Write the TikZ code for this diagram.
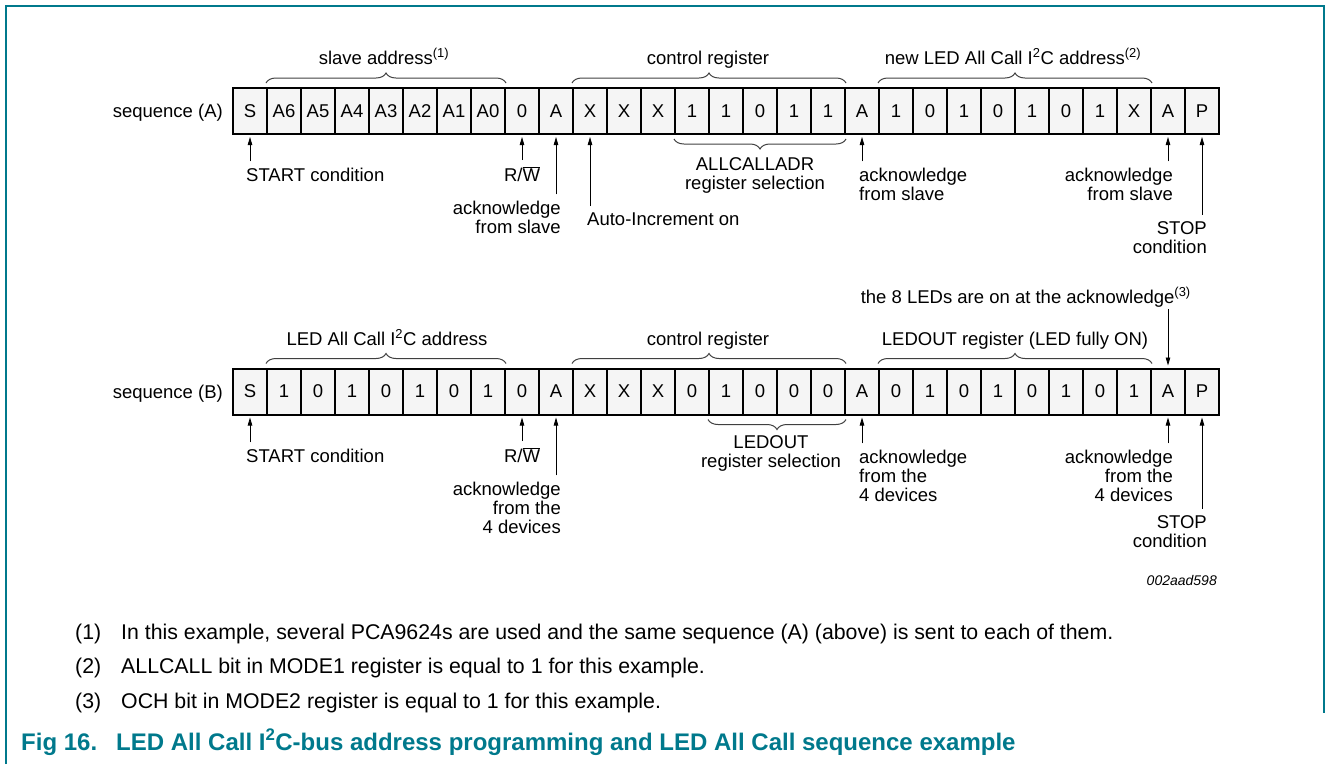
\documentclass[tikz,border=0pt]{standalone}
\usepackage{fontspec}
\setmainfont{Liberation Sans}
\usetikzlibrary{positioning,arrows.meta,decorations.pathreplacing,calc}
\definecolor{nxpteal}{RGB}{0,121,140}
\tikzset{bitcell/.style={draw,line width=2pt,fill=black!4,minimum width=34pt,minimum height=46pt,inner sep=0pt},
  lbl/.style={inner sep=1pt},
  note/.style={lbl,anchor=base west,font=\fontsize{21.3}{24}\selectfont},
  capt/.style={lbl,anchor=base west,font=\bfseries\fontsize{24}{26}\selectfont,text=nxpteal},
  upar/.style={-{Triangle[length=8pt,width=4.5pt]},line width=0.8pt,shorten <=5pt,shorten >=2pt},
  brc/.style={decorate,decoration={brace,amplitude=10pt,raise=4pt},line width=1pt,black!75}}
\newcommand{\bitrow}[3]{% prefix, y, bits
  \foreach \v [count=\i from 0] in {#3} {\node[bitcell] (#1\i) at (250+34*\i,#2) {\v};}}
\newcommand{\rwbar}{R/$\overline{\hbox{W}}$}

\begin{document}
\begin{tikzpicture}[x=1pt,y=-1pt,font=\fontsize{18.5}{19}\selectfont]
    \useasboundingbox (0,0) rectangle (1328,764);
    \draw[nxpteal,line width=1.5pt] (6,764) -- (6,6) -- (1324,6) -- (1324,713);
    % sequence (A)
    \node[lbl,anchor=base east] (seqA) at (224,117) {sequence (A)};
    \bitrow{a}{111}{S,A6,A5,A4,A3,A2,A1,A0,0,A,X,X,X,1,1,0,1,1,A,1,0,1,0,1,0,1,X,A,P}
    \draw[brc] (a1.north west) -- (a7.north east);
    \draw[brc] (a10.north west) -- (a17.north east);
    \draw[brc] (a19.north west) -- (a26.north east);
    \draw[brc] (a17.south east) -- (a13.south west);
    \node[lbl,anchor=base] (slvA) at (384,64) {slave address\textsuperscript{(1)}};
    \node[lbl,anchor=base] (ctlA) at (708,64) {control register};
    \node[lbl,anchor=base] (newA) at (1013,64) {new LED All Call I\textsuperscript{2}C address\textsuperscript{(2)}};
    \node[lbl,anchor=base,align=center] (selA) at (755,189) {ALLCALLADR\\register selection};
    \node[lbl,anchor=base west] (stA) at (245,181) {START condition};
    \node[lbl,anchor=base] (rwA) at (522,181) {\rwbar};
    \node[lbl,anchor=base east,align=right] (ackA1) at (562,233) {acknowledge\\from slave};
    \node[lbl,anchor=base west] (aiA) at (586,225) {Auto-Increment on};
    \node[lbl,anchor=base west,align=left] (ackA2) at (858,200) {acknowledge\\from slave};
    \node[lbl,anchor=base east,align=right] (ackA3) at (1174,200) {acknowledge\\from slave};
    \node[lbl,anchor=base east,align=right] (spA) at (1208,253) {STOP\\condition};
    \draw[upar] (a0 |- stA.north) -- (a0.south);
    \draw[upar] (a8 |- rwA.north) -- (a8.south);
    \draw[upar] (a9 |- ackA1.north) -- (a9.south);
    \draw[upar] (a10 |- aiA.north) -- (a10.south);
    \draw[upar] (a18 |- ackA2.north) -- (a18.south);
    \draw[upar] (a27 |- ackA3.north) -- (a27.south);
    \draw[upar] (a28 |- spA.north) -- (a28.south);
    % sequence (B)
    \node[lbl,anchor=base east] (seqB) at (224,398) {sequence (B)};
    \bitrow{b}{391.5}{S,1,0,1,0,1,0,1,0,A,X,X,X,0,1,0,0,0,A,0,1,0,1,0,1,0,1,A,P}
    \draw[brc] (b1.north west) -- (b7.north east);
    \draw[brc] (b10.north west) -- (b17.north east);
    \draw[brc] (b19.north west) -- (b26.north east);
    \draw[brc] (b17.south east) -- (b14.south west);
    \node[lbl,anchor=base] (llB) at (387,345) {LED All Call I\textsuperscript{2}C address};
    \node[lbl,anchor=base] (ctlB) at (708,345) {control register};
    \node[lbl,anchor=base] (outB) at (1015,345) {LEDOUT register (LED fully ON)};
    \node[lbl,anchor=base east] (ledB) at (1192,303) {the 8 LEDs are on at the acknowledge\textsuperscript{(3)}};
    \node[lbl,anchor=base,align=center] (selB) at (771,467) {LEDOUT\\register selection};
    \node[lbl,anchor=base west] (stB) at (245,462) {START condition};
    \node[lbl,anchor=base] (rwB) at (522,462) {\rwbar};
    \node[lbl,anchor=base east,align=right] (ackB1) at (562,533) {acknowledge\\from the\\4 devices};
    \node[lbl,anchor=base west,align=left] (ackB2) at (858,501) {acknowledge\\from the\\4 devices};
    \node[lbl,anchor=base east,align=right] (ackB3) at (1174,501) {acknowledge\\from the\\4 devices};
    \node[lbl,anchor=base east,align=right] (spB) at (1208,547) {STOP\\condition};
    \draw[upar,shorten <=1pt] (b27 |- ledB.south) -- (b27.north);
    \draw[upar] (b0 |- stB.north) -- (b0.south);
    \draw[upar] (b8 |- rwB.north) -- (b8.south);
    \draw[upar] (b9 |- ackB1.north) -- (b9.south);
    \draw[upar] (b18 |- ackB2.north) -- (b18.south);
    \draw[upar] (b27 |- ackB3.north) -- (b27.south);
    \draw[upar] (b28 |- spB.north) -- (b28.south);
    \node[lbl,anchor=base east,font=\itshape\fontsize{14}{16}\selectfont] (docid) at (1218,585) {002aad598};
    % notes and caption
    \node[note] (n1) at (74,639) {(1)};
    \node[note] (t1) at (120,639) {In this example, several PCA9624s are used and the same sequence (A) (above) is sent to each of them.};
    \node[note] (n2) at (74,673) {(2)};
    \node[note] (t2) at (120,673) {ALLCALL bit in MODE1 register is equal to 1 for this example.};
    \node[note] (n3) at (74,708) {(3)};
    \node[note] (t3) at (120,708) {OCH bit in MODE2 register is equal to 1 for this example.};
    \node[capt] (fig) at (20,750) {Fig 16.};
    \node[capt] (cap) at (115,750) {LED All Call I\textsuperscript{2}C-bus address programming and LED All Call sequence example};
\end{tikzpicture}
\end{document}
